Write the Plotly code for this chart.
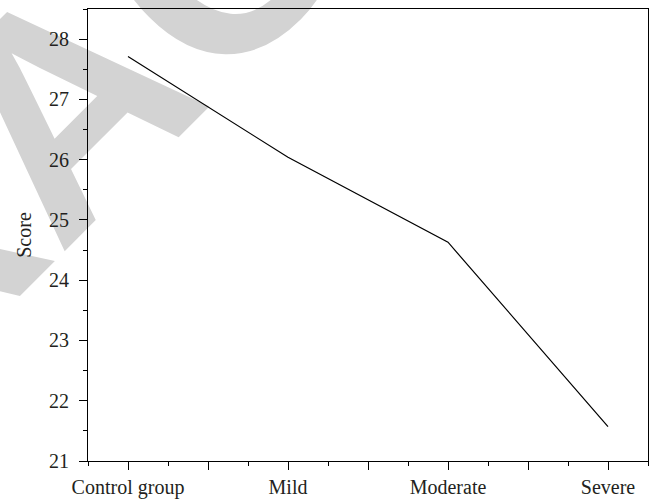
import plotly.graph_objects as go

categories = ["Control group", "Mild", "Moderate", "Severe"]
scores = [27.71, 26.04, 24.63, 21.57]
x_pos = [0, 1, 2, 3]
y_ticks = [21, 22, 23, 24, 25, 26, 27, 28]

tickvals_x = [0, 0.5, 1, 1.5, 2, 2.5, 3]
ticktext_x = ["Control group", "", "Mild", "", "Moderate", "", "Severe"]

fig = go.Figure()
fig.add_trace(go.Scatter(x=x_pos, y=scores, mode="lines",
                         line=dict(color="black", width=1.2),
                         showlegend=False, hoverinfo="skip"))

font_main = dict(family="Liberation Serif", size=20, color="#231f20")

fig.update_layout(
    width=649, height=502,
    margin=dict(l=88, r=1, t=9, b=41, autoexpand=False),
    paper_bgcolor="white", plot_bgcolor="rgba(0,0,0,0)",
    font=font_main,
    shapes=[dict(
        type="rect", xref="paper", yref="paper",
        x0=-0.083, x1=-0.081, y0=0.834, y1=0.836,
        line=dict(width=0), fillcolor="rgba(0,0,0,0)", layer="below",
        label=dict(text="RETRACTED", textangle=-45, textposition="middle center",
                   font=dict(family="Liberation Sans", size=305, color="#d3d3d3", weight="bold")),
    )],
)

fig.update_xaxes(range=[-0.25, 3.25], tickvals=tickvals_x, ticktext=ticktext_x,
                 ticks="outside", ticklen=8, tickwidth=1, tickcolor="black",
                 showline=True, linecolor="black", linewidth=1, mirror=True,
                 showgrid=False, zeroline=False, automargin=False,
                 minor=dict(ticks="outside", ticklen=4, dtick=0.25, tick0=0, tickcolor="black", showgrid=False),
                 tickfont=font_main)
fig.update_yaxes(range=[21, 28.5], tickvals=y_ticks,
                 ticks="outside", ticklen=8, tickwidth=1, tickcolor="black",
                 showline=True, linecolor="black", linewidth=1, mirror=True,
                 showgrid=False, zeroline=False, automargin=False,
                 minor=dict(ticks="outside", ticklen=4, dtick=0.5, tick0=21, tickcolor="black", showgrid=False),
                 title=dict(text="Score", font=font_main, standoff=12),
                 tickfont=font_main, ticklabelstandoff=6)

fig.write_html("out.html", config={"displayModeBar": False},
               post_script="document.body.style.margin='0';document.body.style.overflow='hidden';")
